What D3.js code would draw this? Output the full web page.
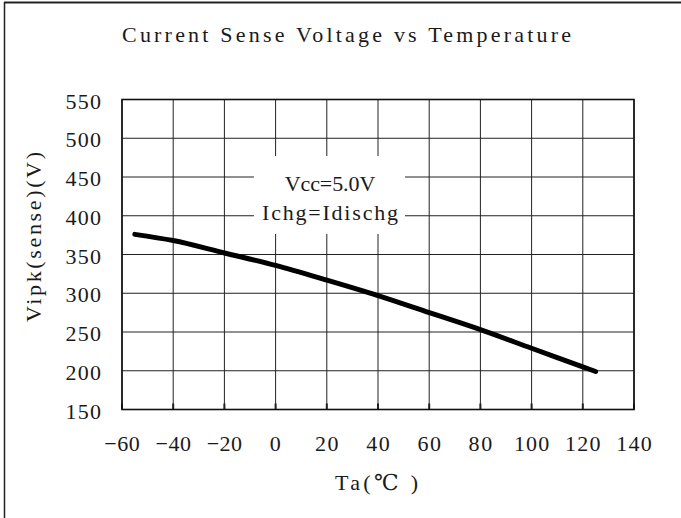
<!DOCTYPE html>
<html><head><meta charset="utf-8">
<script src="https://cdn.jsdelivr.net/npm/d3@7"></script>
<style>body{margin:0;background:#fff}svg{display:block}text{font-family:"Liberation Serif","DejaVu Serif",serif;fill:#1a1a1a}</style>
</head><body><div id="chart"></div>
<script>
const temps = [-55, -40, -20, 0, 20, 40, 60, 80, 100, 120, 125];
const vipk  = [376, 368, 352, 336, 317, 297, 275, 253, 229, 205, 199];
const xTicks = [-60, -40, -20, 0, 20, 40, 60, 80, 100, 120, 140];
const yTicks = [150, 200, 250, 300, 350, 400, 450, 500, 550];
const legendLines = ["Vcc=5.0V", "Ichg=Idischg"];
const title = "Current Sense Voltage vs Temperature";
const xTitle = "Ta(℃ )";
const yTitle = "Vipk(sense)(V)";

const W = 681, H = 518;
const m = {left: 122, right: 634, top: 99.5, bottom: 409.5};
const CH = 11.8; // char advance of the original monospaced font
const svg = d3.select("#chart").append("svg").attr("width", W).attr("height", H);

// outer frame (top and left)
svg.append("line").attr("x1", 4).attr("x2", W).attr("y1", 2.5).attr("y2", 2.5).attr("stroke", "#222").attr("stroke-width", 2);
svg.append("line").attr("x1", 4.5).attr("x2", 4.5).attr("y1", 2).attr("y2", H).attr("stroke", "#222").attr("stroke-width", 1.5);

const x = d3.scaleLinear().domain([-60, 140]).range([m.left, m.right]);
const y = d3.scaleLinear().domain([150, 550]).range([m.bottom, m.top]);

// grid
const g = svg.append("g");
g.selectAll(".vg").data(xTicks).join("line")
  .attr("x1", d => x(d)).attr("x2", d => x(d)).attr("y1", m.top).attr("y2", m.bottom)
  .attr("stroke", "#222").attr("stroke-width", 1);
g.selectAll(".hg").data(yTicks).join("line")
  .attr("x1", m.left).attr("x2", m.right).attr("y1", d => y(d)).attr("y2", d => y(d))
  .attr("stroke", "#222").attr("stroke-width", 1);
g.selectAll(".tk").data(xTicks).join("line")
  .attr("x1", d => x(d)).attr("x2", d => x(d)).attr("y1", m.bottom - 6).attr("y2", m.bottom)
  .attr("stroke", "#222").attr("stroke-width", 2);
svg.append("rect").attr("x", m.left).attr("y", m.top).attr("width", m.right - m.left).attr("height", m.bottom - m.top)
  .attr("fill", "none").attr("stroke", "#111").attr("stroke-width", 1.6);

function fit(sel, w) { sel.attr("textLength", w).attr("lengthAdjust", "spacing"); return sel; }

// legend box
const lb = svg.append("g");
lb.append("rect").attr("x", 254).attr("y", 156).attr("width", 151).attr("height", 78).attr("fill", "#fff");
lb.selectAll("text").data(legendLines).join("text")
  .attr("x", (d) => 330 - d.length * CH * 0.96 / 2).attr("y", (d, i) => 191 + i * 29)
  .attr("font-size", 22).text(d => d)
  .each(function(d) { fit(d3.select(this), d.length * CH * 0.96); });

// curve
const pts = temps.map((t, i) => [t, vipk[i]]);
svg.append("path").datum(pts)
  .attr("d", d3.line().x(d => x(d[0])).y(d => y(d[1])).curve(d3.curveMonotoneX))
  .attr("fill", "none").attr("stroke", "#000").attr("stroke-width", 5).attr("stroke-linecap", "round");

// axis labels
svg.append("g").selectAll("text").data(yTicks).join("text")
  .attr("x", d => 101 - String(d).length * CH).attr("y", d => y(d) + 9)
  .attr("font-size", 22).text(d => d)
  .each(function(d) { fit(d3.select(this), String(d).length * CH); });
const xl = d => d < 0 ? "\u2212" + Math.abs(d) : String(d);
svg.append("g").selectAll("text").data(xTicks).join("text")
  .attr("x", d => x(d) - xl(d).length * CH / 2).attr("y", 451)
  .attr("font-size", 22).text(xl)
  .each(function(d) { fit(d3.select(this), xl(d).length * CH); });

// titles
fit(svg.append("text").attr("x", 122).attr("y", 42).attr("font-size", 22).text(title), 449);
fit(svg.append("text").attr("x", 335).attr("y", 490).attr("font-size", 22).text(xTitle), 83);
fit(svg.append("text").attr("transform", "translate(41,322) rotate(-90)")
  .attr("font-size", 22).text(yTitle), 170);
</script></body></html>
